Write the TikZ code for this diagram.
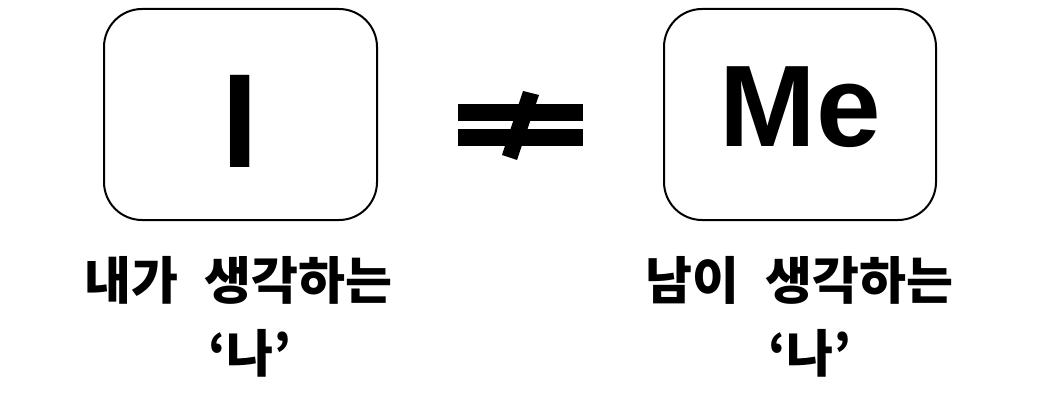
\documentclass[tikz,border=0pt]{standalone}
\usepackage{fontspec}
\setmainfont{Liberation Sans}
\newfontfamily\kofont{Noto Sans CJK KR}
\newcommand{\kogap}{\hspace{0.52em}}
\begin{document}
\begin{tikzpicture}[x=1pt,y=-1pt,
  box/.style={draw=black,line width=2pt,rounded corners=38pt},
  bigtxt/.style={inner sep=0pt,anchor=base,font=\fontsize{134}{134}\selectfont\bfseries},
  medtxt/.style={inner sep=0pt,anchor=base,font=\fontsize{116}{116}\selectfont\bfseries},
  kotxt/.style={inner sep=0pt,anchor=base,font=\kofont\fontsize{51}{51}\selectfont\bfseries},
  neq/.style={fill=black}]
\useasboundingbox (0,0) rectangle (1040,412);
\fill[white] (0,0) rectangle (1040,412);
\draw[box] (104,9) rectangle (377,220);
\draw[box] (664,9) rectangle (936,220);
\node[bigtxt] (i) at (240.5,167) {I};
\node[medtxt] (me) at (800,146) {Me};
\fill[neq] (458,104) rectangle (583,121);
\fill[neq] (458,129) rectangle (583,146);
\fill[neq] (523,91) -- (539,95) -- (517,160) -- (502,155) -- cycle;
\node[kotxt] (l1) at (238.5,299) {내가\kogap 생각하는};
\node[kotxt] (l2) at (250,372) {‘나’};
\node[kotxt] (r1) at (799.5,299) {남이\kogap 생각하는};
\node[kotxt] (r2) at (810,372) {‘나’};
\end{tikzpicture}
\end{document}
